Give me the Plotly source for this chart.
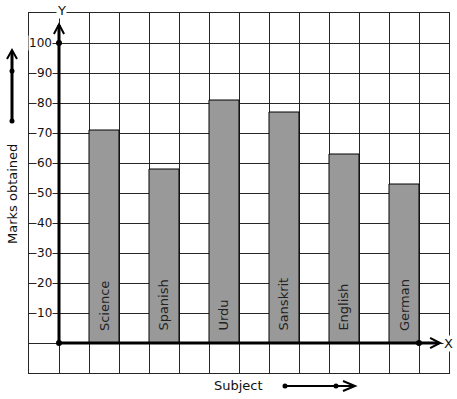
import plotly.graph_objects as go

subjects = ["Science", "Spanish", "Urdu", "Sanskrit", "English", "German"]
marks = [71, 58, 81, 77, 63, 53]
x_pos = [1.5, 3.5, 5.5, 7.5, 9.5, 11.5]
y_ticks = [10, 20, 30, 40, 50, 60, 70, 80, 90, 100]

W, H = 457, 399
L, R, T, B = 29, 449, 13, 373
FONT = "DejaVu Sans"
GRID = "#262626"

def px(xp):
    return (xp - L) / (R - L)

def py(yp):
    return (B - yp) / (B - T)

fig = go.Figure()
fig.add_trace(go.Bar(
    x=x_pos, y=marks, width=1,
    marker=dict(color="#999999", line=dict(color="black", width=1)),
    hoverinfo="skip", showlegend=False,
))

# dots on axes
fig.add_trace(go.Scatter(
    x=[0, 0, 12], y=[0, 100, 0], mode="markers",
    marker=dict(color="black", size=6), cliponaxis=False,
    showlegend=False, hoverinfo="skip",
))

shapes = []
# axes lines (data coords)
shapes.append(dict(type="line", xref="x", yref="y", x0=0, y0=0, x1=12.67, y1=0,
                   line=dict(color="black", width=3), layer="above"))
shapes.append(dict(type="line", xref="x", yref="y", x0=0, y0=0, x1=0, y1=106,
                   line=dict(color="black", width=3), layer="above"))
# y-axis arrowhead
shapes.append(dict(type="path", xref="x", yref="y",
                   path="M -0.17,103 L 0,106.2 L 0.17,103",
                   line=dict(color="black", width=2), layer="above"))
# x-axis arrowhead
shapes.append(dict(type="path", xref="x", yref="y",
                   path="M 12.37,1.7 L 12.7,0 L 12.37,-1.7",
                   line=dict(color="black", width=2), layer="above"))

# left vertical arrow (paper coords)
shapes.append(dict(type="line", xref="paper", yref="paper",
                   x0=px(12), y0=py(121), x1=px(12), y1=py(51),
                   line=dict(color="black", width=3)))
shapes.append(dict(type="path", xref="paper", yref="paper",
                   path=f"M {px(7)},{py(59)} L {px(12)},{py(50)} L {px(17)},{py(59)}",
                   line=dict(color="black", width=2)))
# bottom horizontal arrow
shapes.append(dict(type="line", xref="paper", yref="paper",
                   x0=px(285), y0=py(386), x1=px(354), y1=py(386),
                   line=dict(color="black", width=2)))
shapes.append(dict(type="path", xref="paper", yref="paper",
                   path=f"M {px(343)},{py(381)} L {px(355)},{py(386)} L {px(343)},{py(391)}",
                   line=dict(color="black", width=2)))
# outside dots
for (cx, cy) in [(12, 121), (12, 71), (285, 386), (336, 386)]:
    shapes.append(dict(type="circle", xref="paper", yref="paper",
                       xsizemode="pixel", ysizemode="pixel",
                       xanchor=px(cx), yanchor=py(cy),
                       x0=-2.5, x1=2.5, y0=-2.5, y1=2.5,
                       fillcolor="black", line=dict(color="black", width=0)))

annotations = []
for v in y_ticks:
    annotations.append(dict(x=-0.2, y=v, xref="x", yref="y", text=str(v),
                            showarrow=False, xanchor="right", yanchor="middle",
                            bgcolor="white", borderpad=0,
                            font=dict(family=FONT, size=12, color="#111")))
for xp, s in zip(x_pos, subjects):
    annotations.append(dict(x=xp, y=3.3, xref="x", yref="y", text=s,
                            showarrow=False, textangle=-90,
                            xanchor="center", yanchor="bottom",
                            font=dict(family=FONT, size=13, color="#222")))
annotations.append(dict(x=px(61), y=py(10), xref="paper", yref="paper", text="Y",
                        showarrow=False, xanchor="center", yanchor="middle",
                        bgcolor="white", borderpad=0,
                        font=dict(family=FONT, size=13, color="#111")))
annotations.append(dict(x=12.97, y=0, xref="x", yref="y", text="X", showarrow=False,
                        xanchor="center", yanchor="middle",
                        bgcolor="white", borderpad=0,
                        font=dict(family=FONT, size=13, color="#111")))
annotations.append(dict(x=px(238), y=py(385), xref="paper", yref="paper", text="Subject",
                        showarrow=False, xanchor="center", yanchor="middle",
                        font=dict(family=FONT, size=13, color="#111")))
annotations.append(dict(x=px(12), y=py(194), xref="paper", yref="paper", text="Marks obtained",
                        showarrow=False, textangle=-90, xanchor="center", yanchor="middle",
                        font=dict(family=FONT, size=13, color="#111")))

fig.update_layout(
    width=W, height=H,
    margin=dict(l=L, r=W - R, t=T, b=H - B, pad=0),
    plot_bgcolor="white", paper_bgcolor="white",
    shapes=shapes, annotations=annotations,
    xaxis=dict(range=[-1, 13], dtick=1, tick0=0, showgrid=True, gridcolor=GRID, gridwidth=1,
               showticklabels=False, zeroline=False, showline=True, mirror=True,
               linecolor=GRID, linewidth=1, ticks="", fixedrange=True),
    yaxis=dict(range=[-10, 110], dtick=10, tick0=0, showgrid=True, gridcolor=GRID, gridwidth=1,
               showticklabels=False, zeroline=False, showline=True, mirror=True,
               linecolor=GRID, linewidth=1, ticks="", fixedrange=True),
    font=dict(family=FONT),
)

fig.write_html("out.html")
